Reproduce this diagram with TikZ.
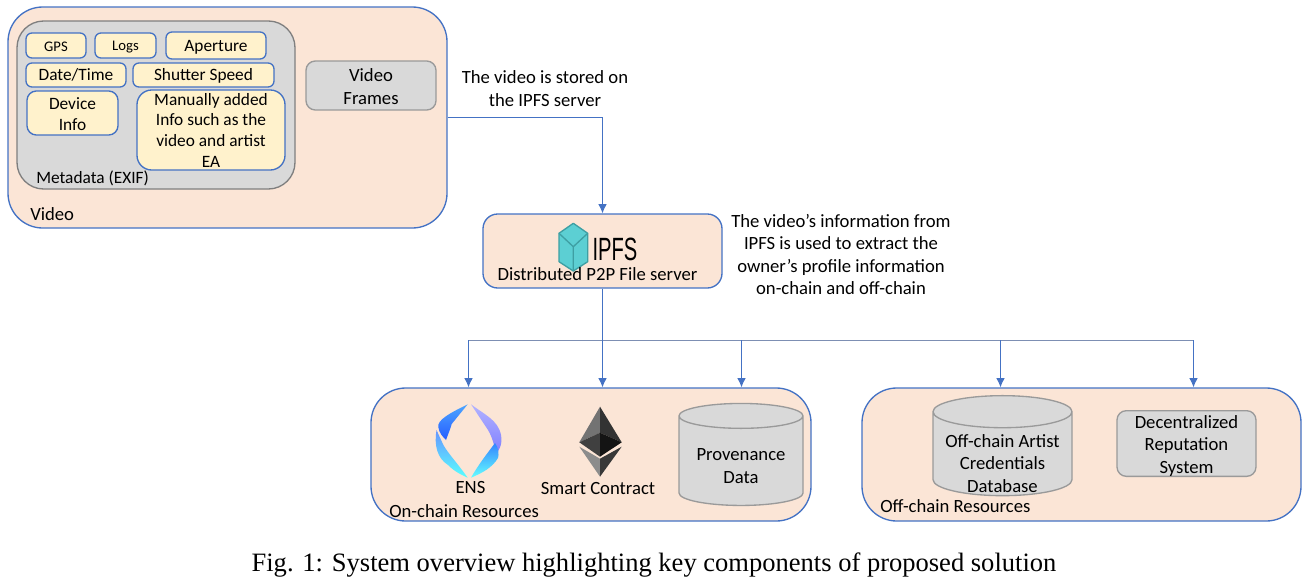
\documentclass[tikz,border=0pt]{standalone}
\usepackage{fontspec}
\setmainfont{Carlito}
\newfontfamily\capfont{Liberation Serif}
\newfontfamily\logofont{Liberation Sans}
\usetikzlibrary{shapes.geometric,arrows.meta}
\definecolor{peach}{HTML}{FBE5D6}
\definecolor{boxblue}{HTML}{4472C4}
\definecolor{cream}{HTML}{FFF2CC}
\definecolor{greyfill}{HTML}{D9D9D9}
\definecolor{greyline}{HTML}{7F7F7F}
\definecolor{softline}{HTML}{9A9A9A}
\definecolor{busline}{HTML}{7D8FB3}
\definecolor{ipfsfill}{HTML}{5CCFD3}
\definecolor{ipfsline}{HTML}{3E9FA3}
\newcommand\lift[1]{\rule{0pt}{#1}}
\begin{document}
\begin{tikzpicture}[x=0.75pt,y=-0.75pt]
\tikzset{
  sized/.style 2 args={minimum width=#1*0.75pt,minimum height=#2*0.75pt},
  group/.style={draw=boxblue,fill=peach,line width=1pt,rounded corners=26pt,inner sep=0pt},
  metabox/.style={draw=greyline,fill=greyfill,line width=1pt,rounded corners=20pt,inner sep=0pt},
  tag/.style={draw=boxblue,fill=cream,line width=1pt,rounded corners=4.5pt,inner sep=0pt,align=center,font=\fontsize{13}{15.5}\selectfont},
  greybox/.style={draw=softline,fill=greyfill,line width=1pt,rounded corners=7pt,inner sep=0pt,align=center,font=\fontsize{14}{17}\selectfont},
  store/.style={draw=softline,fill=greyfill,line width=1pt,cylinder,shape border rotate=90,aspect=0.28,inner sep=0pt,font=\fontsize{14}{17}\selectfont},
  label/.style={inner sep=0pt,align=center,font=\fontsize{14}{17}\selectfont},
  link/.style={draw=boxblue,line width=0.7pt},
  linka/.style={link,-{Latex[length=7pt,width=6.5pt]}},
}
\useasboundingbox (0,0) rectangle (1310,582);
% video
\path (227.5,117.5) node[group,sized={439}{221}](video){};
\path (156,105) node[metabox,sized={278}{168}](meta){};
\path (56,45.5) node[tag,sized={60}{25},font=\fontsize{11}{14}\selectfont](gps){\lift{9pt}GPS};
\path (125.5,45.5) node[tag,sized={61}{25},font=\fontsize{11}{14}\selectfont](logs){\lift{9pt}Logs};
\path (216,45.5) node[tag,sized={100}{27}](aperture){\lift{10.5pt}Aperture};
\path (76,75) node[tag,sized={100}{24}](date){Date/Time};
\path (203.5,75) node[tag,sized={141}{24}](shutter){\lift{10pt}Shutter Speed};
\path (72.5,113) node[tag,sized={91}{44},rounded corners=7pt](device){\lift{10.5pt}Device\\Info};
\path (211,130) node[tag,sized={148}{80},rounded corners=11pt](manual){Manually added\\Info such as the\\video and artist\\EA};
\path (371,85.5) node[greybox,sized={130}{49}](frames){\lift{11pt}Video\\Frames};
\path (36,178) node[label,anchor=west,font=\fontsize{13}{15}\selectfont](metatext){Metadata (EXIF)};
\path (30,214) node[label,anchor=west](videotext){Video};
\path (545,88.5) node[label,font=\fontsize{14}{17}\selectfont](stored){The video is stored on\\the IPFS server};
% ipfs
\path (602.5,251) node[group,sized={239}{74},rounded corners=11pt](ipfs){};
\filldraw[draw=ipfsline,fill=ipfsfill,line width=1pt,line join=round] (573.3,223.3) -- (587.7,233.3) -- (587.7,261.7) -- (573.3,271) -- (559,261.7) -- (559,233.3) -- cycle;
\draw[ipfsline,line width=1pt] (559,233.3) -- (573.3,246.7) -- (587.7,233.3) (573.3,246.7) -- (573.3,271);
\path (615,249) node[inner sep=0pt](logo){\logofont\fontsize{21}{21}\selectfont\scalebox{0.72}[1.15]{IPFS}};
\path (597.5,274.5) node[label](server){Distributed P2P File server};
\path (841,254.5) node[label,font=\fontsize{14}{16.7}\selectfont](info){The video's information from\\IPFS is used to extract the\\owner's profile information\\on-chain and off-chain};
% resources
\path (591,454.5) node[group,sized={440}{133}](onchain){};
\path (1081.5,454.5) node[group,sized={439}{133}](offchain){};
% ens
\shade[top color=blue!50!cyan!70!white,bottom color=blue!75!cyan!85] (467.7,404.3) .. controls (450,413) and (437,420) .. (438.3,427) .. controls (439,433) and (443,437) .. (446,440) .. controls (449,432) and (451,427) .. (451.7,424) -- cycle;
\shade[top color=cyan!30!blue!60,bottom color=cyan!65] (436.5,430) .. controls (434,445) and (437,458) .. (448,465) .. controls (455,472) and (462,475) .. (467.7,477.7) .. controls (455,460) and (445,450) .. (442,442) -- cycle;
\shade[top color=blue!30!white,bottom color=blue!50!white] (471,404.3) .. controls (485,415) and (498,420) .. (501,435) .. controls (503,445) and (498,452) .. (496,453) .. controls (494,445) and (492,435) .. (486,427) -- cycle;
\shade[top color=blue!60!cyan!80,bottom color=cyan!60] (471,477.7) .. controls (480,462) and (490,450) .. (495,443) .. controls (499,448) and (499,455) .. (498,458) .. controls (492,468) and (482,473) .. (471,477.7) -- cycle;
% ethereum
\fill[black!55] (600,406.7) -- (579.3,442.3) -- (600,432.7) -- cycle;
\fill[black!80] (600,406.7) -- (621.7,442.3) -- (600,432.7) -- cycle;
\fill[black!75] (579.3,442.3) -- (600,432.7) -- (600,456.7) -- cycle;
\fill[black!92] (621.7,442.3) -- (600,432.7) -- (600,456.7) -- cycle;
\fill[black!45] (579.3,446.7) -- (600,458.7) -- (600,476.7) -- cycle;
\fill[black!78] (621.7,446.7) -- (600,458.7) -- (600,476.7) -- cycle;
\path (470.5,487) node[label](ens){ENS};
\path (598,488.5) node[label](contract){Smart Contract};
\path (389,511) node[label,anchor=west](ontext){On-chain Resources};
\path (741,461) node[store,sized={124}{102}](prov){\phantom{Provenance}};
\path (741,466) node[label](provtext){Provenance\\Data};
\path (1002.5,454) node[store,sized={139}{100}](artist){\phantom{Off-chain Artist}};
\path (1002.5,463.5) node[label](artisttext){Off-chain Artist\\Credentials\\Database};
\path (1186.5,443.5) node[greybox,sized={139}{63}](rep){\lift{13pt}Decentralized\\Reputation\\System};
\path (880,506) node[label,anchor=west](offtext){Off-chain Resources};
% links
\draw[linka] (video.east) -| (ipfs.north);
\path (468.5,340) coordinate(busa) (741.5,340) coordinate(busc) (1000.5,340) coordinate(busd) (1193.5,340) coordinate(buse);
\draw[busline,line width=0.75pt] (busa) -- (buse);
\draw[linka] (ipfs.south) -- (ipfs.south |- onchain.north);
\draw[linka] (busa) -- (busa |- onchain.north);
\draw[linka] (busc) -- (busc |- onchain.north);
\draw[linka] (busd) -- (busd |- offchain.north);
\draw[linka] (buse) -- (buse |- offchain.north);
% caption
\path (654,565.5) node[inner sep=0pt,font=\capfont\fontsize{19.9}{22}\selectfont](caption){Fig. 1: System overview highlighting key components of proposed solution};
\end{tikzpicture}
\end{document}
